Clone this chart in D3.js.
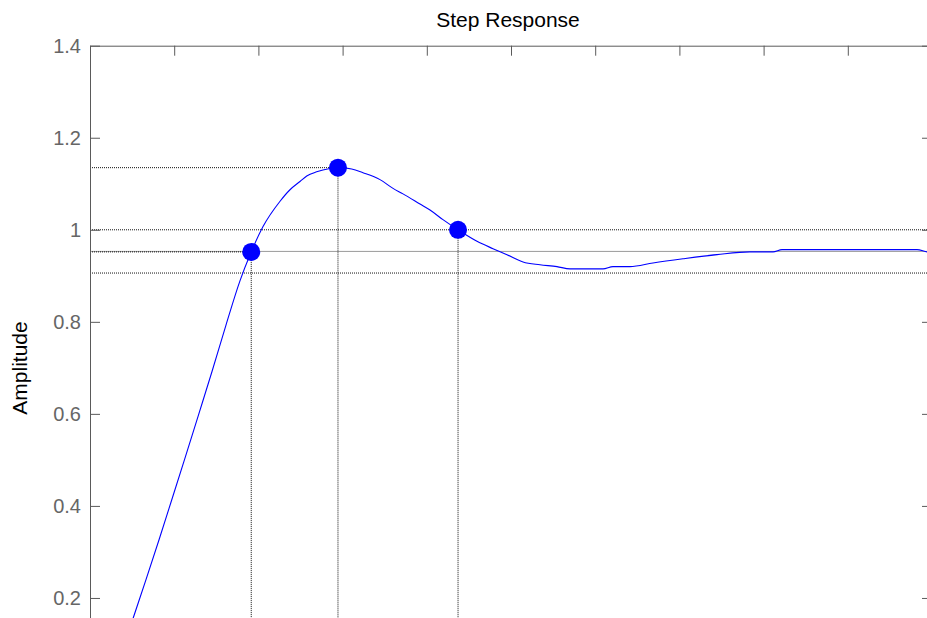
<!DOCTYPE html>
<html>
<head>
<meta charset="utf-8">
<script src="https://cdn.jsdelivr.net/npm/d3@7"></script>
<style>
  html, body { margin: 0; padding: 0; background: #fff; }
  svg { display: block; font-family: "Liberation Sans", Arial, sans-serif; }
</style>
</head>
<body>
<svg id="chart" width="927" height="618"></svg>
<script>
// ---- data ----
const timeValues = [0.000, 0.238, 0.380, 0.514, 0.665, 0.819, 0.974, 1.128, 1.289, 1.449, 1.615, 1.781, 1.915,
  2.055, 2.257, 2.375, 2.494, 2.574, 2.692, 2.850, 2.945, 3.108, 3.242, 3.444, 3.599, 3.717, 3.919, 4.038,
  4.192, 4.371, 4.596, 4.786, 4.952, 5.143, 5.344, 5.546, 5.701, 6.093, 6.211, 6.413, 6.686, 7.043, 7.447,
  7.838, 8.112, 8.219, 9.822, 9.941, 10.0];
const amplitudeValues = [0.000, 0.030, 0.083, 0.157, 0.240, 0.326, 0.415, 0.504, 0.598, 0.692, 0.793, 0.889, 0.952,
  1.007, 1.062, 1.087, 1.105, 1.117, 1.126, 1.133, 1.135, 1.132, 1.124, 1.109, 1.090, 1.078, 1.056, 1.043,
  1.022, 1.000, 0.975, 0.959, 0.946, 0.930, 0.924, 0.920, 0.915, 0.915, 0.920, 0.920, 0.928, 0.937, 0.946,
  0.952, 0.952, 0.957, 0.957, 0.952, 0.951];
const markerTimes = [1.915, 2.945, 4.371];
const markerAmps = [0.952, 1.135, 1.000];
const finalValue = 0.953;
const bandLevels = [1.000, 0.906];
const xTickValues = [0, 1, 2, 3, 4, 5, 6, 7, 8, 9, 10];
const yTickValues = [0.2, 0.4, 0.6, 0.8, 1.0, 1.2, 1.4];
const yTickLabels = ["0.2", "0.4", "0.6", "0.8", "1", "1.2", "1.4"];
const titleText = "Step Response";
const yLabelText = "Amplitude";

// ---- layout ----
const svg = d3.select("#chart");
const mLeft = 90, mRight = 932, mTop = 45.7, mBottom = 690;
const x = d3.scaleLinear().domain([0, 10]).range([mLeft, mRight]);
const y = d3.scaleLinear().domain([0, 1.4]).range([mBottom, mTop]);
const axisColor = "#5a5a5a";

// reference lines
const g = svg.append("g");
g.append("line").attr("x1", x(0)).attr("x2", x(10)).attr("y1", y(finalValue)).attr("y2", y(finalValue))
  .attr("stroke", "#9a9a9a").attr("stroke-width", 1);
bandLevels.forEach(v => {
  g.append("line").attr("x1", x(0)).attr("x2", x(10)).attr("y1", y(v)).attr("y2", y(v))
    .attr("stroke", "#111").attr("stroke-width", 1).attr("stroke-dasharray", "1,1");
});
markerTimes.forEach((t, i) => {
  const a = markerAmps[i];
  g.append("line").attr("x1", x(t)).attr("x2", x(t)).attr("y1", y(a)).attr("y2", y(0))
    .attr("stroke", "#111").attr("stroke-width", 1).attr("stroke-dasharray", "1,1");
  if (i < 2) {
    g.append("line").attr("x1", x(0)).attr("x2", x(t)).attr("y1", y(a)).attr("y2", y(a))
      .attr("stroke", "#111").attr("stroke-width", 1).attr("stroke-dasharray", "1,1");
  }
});

// curve
const pts = timeValues.map((t, i) => [t, amplitudeValues[i]]);
svg.append("path").datum(pts)
  .attr("d", d3.line().x(d => x(d[0])).y(d => y(d[1])).curve(d3.curveMonotoneX))
  .attr("fill", "none").attr("stroke", "#0000ff").attr("stroke-width", 1.1);

// markers
svg.selectAll("circle.mk").data(markerTimes).enter().append("circle")
  .attr("class", "mk")
  .attr("cx", d => x(d)).attr("cy", (d, i) => y(markerAmps[i])).attr("r", 9)
  .attr("fill", "#0000ff");

// axes
function styleAxis(sel) {
  sel.selectAll("path, line").attr("stroke", axisColor).attr("stroke-width", 1);
  sel.selectAll("text").attr("fill", "#666").attr("font-size", 20)
    .attr("font-family", "'Liberation Sans', Arial, sans-serif");
}
const axL = svg.append("g").attr("transform", `translate(${mLeft},0)`)
  .call(d3.axisLeft(y).tickValues(yTickValues).tickSize(-10).tickSizeOuter(0).tickPadding(9)
    .tickFormat((d, i) => yTickLabels[i]));
styleAxis(axL);
const axR = svg.append("g").attr("transform", `translate(${mRight},0)`)
  .call(d3.axisLeft(y).tickValues(yTickValues).tickSize(10).tickSizeOuter(0).tickFormat(""));
styleAxis(axR);
const axT = svg.append("g").attr("transform", `translate(0,${mTop})`)
  .call(d3.axisTop(x).tickValues(xTickValues).tickSize(-10).tickSizeOuter(0).tickFormat(""));
styleAxis(axT);

// title
svg.append("text").attr("x", 508).attr("y", 27).attr("text-anchor", "middle")
  .attr("font-size", 21).attr("fill", "#000").text(titleText);
// y label
svg.append("text").attr("transform", "translate(27,368) rotate(-90)").attr("text-anchor", "middle")
  .attr("font-size", 21).attr("fill", "#000").text(yLabelText);
</script>
</body>
</html>
